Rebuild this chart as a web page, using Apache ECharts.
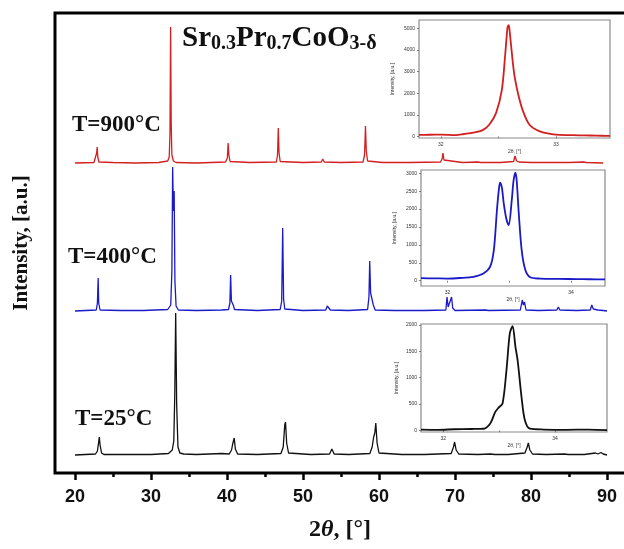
<!DOCTYPE html>
<html><head><meta charset="utf-8">
<script src="https://cdn.jsdelivr.net/npm/echarts@6/dist/echarts.min.js"></script>
<style>html,body{margin:0;padding:0;background:#fff}#c{width:624px;height:549px}</style>
</head><body><div id="c"></div>
<script>
// ---- main XRD patterns: [2theta, intensity above own baseline] ----
const pattern900 = [[20,0],[22.5,0.5],[22.75,2],[22.85,10],[22.92,16],[23.0,6],[23.15,1],[25,0.5],[28,0],[31,0.5],[32.2,2],[32.4,6],[32.5,30],[32.58,136],[32.66,40],[32.75,8],[32.95,2],[33.3,0.5],[36,0],[39.8,1],[40.05,5],[40.15,20],[40.25,8],[40.4,1.5],[43,0.5],[46.5,1],[46.65,8],[46.75,35],[46.85,10],[47.0,1.5],[50,0.5],[52.4,1],[52.6,4],[52.8,1],[55,0.5],[57.9,1],[58.1,8],[58.22,37],[58.33,12],[58.5,2],[60.5,0.5],[64,0.5],[68.1,1],[68.3,4],[68.42,10],[68.55,3],[68.8,1],[71,0.5],[73,1],[73.2,2],[73.4,0.5],[76,0.5],[77.7,1.5],[77.9,7],[78.1,2],[78.4,1],[80,0.5],[82.4,0.5],[82.6,1.5],[82.8,0.5],[85,0.5],[86.9,1],[87.1,3],[87.3,0.5],[89.5,0]];
const pattern400 = [[20,0],[22.8,1],[22.95,8],[23.05,33],[23.12,8],[23.3,1],[26,0.5],[29,0.5],[32.2,1.5],[32.6,6],[32.75,40],[32.85,144],[32.95,100],[33.05,120],[33.15,30],[33.3,5],[33.6,1],[36,0.5],[39.3,1],[40.2,1.5],[40.38,8],[40.48,36],[40.58,10],[40.72,12],[40.82,6],[41.0,1.5],[44,0.5],[47.0,1.5],[47.2,10],[47.33,83],[47.45,12],[47.6,2],[50,0.5],[53.0,1],[53.2,5],[53.3,6],[53.45,5],[53.6,1],[56,0.5],[58.5,1.5],[58.68,14],[58.78,50],[58.9,18],[59.1,17],[59.25,6],[59.5,1],[62,0.5],[66,0.5],[68.8,1],[68.95,14],[69.1,4],[69.3,3],[69.55,14],[69.7,3],[70,0.5],[74.0,1],[74.2,3],[74.4,0.5],[78.6,1],[78.85,11],[79.0,6],[79.15,9],[79.35,1],[81,0.5],[83.4,1],[83.6,4],[83.8,1],[86,0.5],[87.8,1],[88.0,6],[88.2,2],[88.8,1],[89.0,2],[89.5,0.5],[90,0]];
const pattern25 = [[20,0],[22.7,1],[22.95,4],[23.1,12],[23.2,18],[23.3,10],[23.5,2],[23.8,0.5],[27,0.5],[30,0.5],[32.3,1.5],[32.8,5],[33.0,14],[33.13,60],[33.25,142],[33.38,50],[33.55,8],[33.8,2],[34.3,1],[36,0.5],[39.3,1.5],[39.5,0.5],[40.3,1],[40.6,5],[40.75,11],[40.85,9],[40.95,17],[41.1,6],[41.4,1],[44,0.5],[47.1,1.5],[47.4,8],[47.6,30],[47.7,33],[47.85,12],[48.1,2],[51,0.5],[53.5,1],[53.8,6],[54.1,1],[56,0.5],[58.8,1.5],[59.1,8],[59.3,18],[59.45,22],[59.58,32],[59.75,12],[60.0,2],[63,0.5],[66,0.5],[69.5,1.5],[69.8,8],[69.95,13],[70.15,5],[70.5,1],[73,0.5],[74.7,1],[74.9,2.5],[75.2,0.5],[77,0.5],[79.2,2],[79.5,8],[79.65,12],[79.85,5],[80.2,1],[82,0.5],[84.4,1],[84.65,2.5],[84.9,0.5],[87,0.5],[88.5,2],[88.8,1],[89.2,2.5],[89.5,1],[90,0]];
const offset900 = 310, offset400 = 162, offset25 = 18;
const mainTicks = [20,30,40,50,60,70,80,90];
const mainMinorTicks = [25,35,45,55,65,75,85];

// ---- inset patterns: [2theta, counts] ----
const inset900 = [[31.81,70],[31.9,75],[32.0,80],[32.13,60],[32.2,110],[32.28,170],[32.36,280],[32.42,540],[32.48,1090],[32.53,2150],[32.56,3840],[32.58,5070],[32.59,5150],[32.6,4760],[32.62,3690],[32.64,2800],[32.67,2000],[32.71,1230],[32.77,540],[32.86,230],[32.95,120],[33.0,80],[33.1,60],[33.2,50],[33.3,40],[33.4,30],[33.47,20]];
const inset400 = [[31.57,70],[31.8,65],[32.0,60],[32.2,75],[32.42,110],[32.58,200],[32.69,390],[32.75,860],[32.8,1975],[32.83,2530],[32.85,2740],[32.88,2600],[32.91,2160],[32.95,1745],[32.99,1555],[33.04,2250],[33.07,2810],[33.1,3020],[33.12,2800],[33.15,1975],[33.2,860],[33.26,300],[33.34,95],[33.5,60],[33.8,50],[34.1,45],[34.3,40],[34.55,35]];
const inset25 = [[31.6,15],[31.9,10],[32.2,20],[32.5,25],[32.72,30],[32.84,130],[32.93,350],[32.99,430],[33.06,510],[33.13,1140],[33.19,1840],[33.24,1980],[33.29,1590],[33.33,1330],[33.4,630],[33.46,190],[33.55,30],[33.8,15],[34.2,10],[34.6,15],[34.93,5]];
const inset900XLabels = [32,33], inset900XTicks = [32,32.5,33];
const inset900YLabels = [0,1000,2000,3000,4000,5000];
const inset400XLabels = [32,34], inset400XTicks = [32,33,34];
const inset400YLabels = [0,500,1000,1500,2000,2500,3000];
const inset25XLabels = [32,34], inset25XTicks = [32,33,34];
const inset25YLabels = [0,500,1000,1500,2000];

const RED = '#d21f1f', BLUE = '#1a1ac8', BLACK = '#111111';
const serif = '"Liberation Serif","Times New Roman",serif';
const sans = '"Liberation Sans",Arial,sans-serif';
const plain = v => String(v);

function shift(arr, off){ return arr.map(p => [p[0], p[1] + off]); }

function insetX(grid, min, max, labels, ticks){
  return {gridIndex: grid, type:'value', position:'bottom', min:min, max:max,
    name:'2θ, [°]', nameLocation:'middle', nameGap:11,
    nameTextStyle:{fontSize:5, color:'#333', fontFamily:sans},
    axisLine:{show:false},
    axisTick:{show:true, customValues:ticks, length:2, lineStyle:{color:'#666', width:0.8}},
    axisLabel:{customValues:labels, fontSize:5, color:'#333', margin:4, fontFamily:sans, formatter:plain},
    splitLine:{show:false}};
}
function insetY(grid, min, max, labels, gap){
  return {gridIndex: grid, type:'value', position:'left', min:min, max:max,
    name:'Intensity, [a.u.]', nameLocation:'middle', nameGap:gap, nameRotate:90,
    nameTextStyle:{fontSize:5, color:'#333', fontFamily:sans},
    axisLine:{show:false},
    axisTick:{show:true, customValues:labels, length:2, lineStyle:{color:'#666', width:0.8}},
    axisLabel:{customValues:labels, fontSize:5, color:'#333', margin:4, fontFamily:sans, formatter:plain},
    splitLine:{show:false}};
}

const chart = echarts.init(document.getElementById('c'), null, {renderer:'canvas'});
chart.setOption({
  animation:false,
  backgroundColor:'#fff',
  title:[
    {text:'{b|Sr}{s|0.3}{b|Pr}{s|0.7}{b|CoO}{s|3-δ}', left:182, top:24, padding:0,
     textStyle:{rich:{
       b:{fontFamily:serif, fontWeight:'bold', fontSize:29, lineHeight:30, color:'#111', verticalAlign:'top'},
       s:{fontFamily:serif, fontWeight:'bold', fontSize:20, lineHeight:20, color:'#111', verticalAlign:'bottom', padding:[17,0,0,0]}
     }}},
    {text:'T=900°C', left:72, top:114, padding:0, textStyle:{fontFamily:serif, fontWeight:'bold', fontSize:23, color:'#111'}},
    {text:'T=400°C', left:68, top:246, padding:0, textStyle:{fontFamily:serif, fontWeight:'bold', fontSize:23, color:'#111'}},
    {text:'T=25°C', left:75, top:408, padding:0, textStyle:{fontFamily:serif, fontWeight:'bold', fontSize:23, color:'#111'}},
    {text:'{a|2}{i|θ}{a|, [°]}', left:309, top:518, padding:0,
     textStyle:{rich:{
       a:{fontFamily:serif, fontSize:24, color:'#111'},
       i:{fontFamily:serif, fontSize:24, fontStyle:'italic', color:'#111'}
     }}}
  ],
  grid:[
    {left:55, top:13, right:-20, bottom:76, outerBoundsMode:'none', show:true, borderColor:'#000', borderWidth:3, backgroundColor:'transparent'},
    {left:419, top:20, width:191, height:118, outerBoundsMode:'none', show:true, borderColor:'#8a8a8a', borderWidth:1.2, backgroundColor:'#fff'},
    {left:421, top:170, width:184, height:116, outerBoundsMode:'none', show:true, borderColor:'#8a8a8a', borderWidth:1.2, backgroundColor:'#fff'},
    {left:421, top:324, width:186, height:108, outerBoundsMode:'none', show:true, borderColor:'#8a8a8a', borderWidth:1.2, backgroundColor:'#fff'}
  ],
  xAxis:[
    {gridIndex:0, type:'value', position:'bottom', min:17.37, max:94.87,
     axisLine:{show:false},
     axisTick:{show:true, customValues:mainTicks, length:7, lineStyle:{color:'#000', width:2.5}},
     axisLabel:{customValues:mainTicks, fontSize:18, fontWeight:'bold', fontFamily:sans, color:'#111', margin:15},
     splitLine:{show:false}},
    {gridIndex:0, type:'value', position:'bottom', min:17.37, max:94.87,
     axisLine:{show:false},
     axisTick:{show:true, customValues:mainMinorTicks, length:4, lineStyle:{color:'#000', width:2.5}},
     axisLabel:{show:false}, splitLine:{show:false}},
    insetX(1, 31.81, 33.47, inset900XLabels, inset900XTicks),
    insetX(2, 31.57, 34.55, inset400XLabels, inset400XTicks),
    insetX(3, 31.6, 34.93, inset25XLabels, inset25XTicks)
  ],
  yAxis:[
    {gridIndex:0, type:'value', min:0, max:460,
     name:'Intensity, [a.u.]', nameLocation:'middle', nameGap:23, nameRotate:90,
     nameTextStyle:{fontFamily:serif, fontWeight:'bold', fontSize:21, color:'#111'},
     axisLine:{show:false}, axisTick:{show:false}, axisLabel:{show:false}, splitLine:{show:false}},
    insetY(1, -75, 5390, inset900YLabels, 24),
    insetY(2, -148, 3092, inset400YLabels, 24),
    insetY(3, -32, 2019, inset25YLabels, 22)
  ],
  series:[
    {type:'line', xAxisIndex:0, yAxisIndex:0, data:shift(pattern900, offset900), showSymbol:false, lineStyle:{color:RED, width:1.3}},
    {type:'line', xAxisIndex:0, yAxisIndex:0, data:shift(pattern400, offset400), showSymbol:false, lineStyle:{color:BLUE, width:1.3}},
    {type:'line', xAxisIndex:0, yAxisIndex:0, data:shift(pattern25, offset25), showSymbol:false, lineStyle:{color:BLACK, width:1.3}},
    {type:'line', xAxisIndex:2, yAxisIndex:1, data:inset900, showSymbol:false, smooth:0.3, lineStyle:{color:RED, width:1.8}},
    {type:'line', xAxisIndex:3, yAxisIndex:2, data:inset400, showSymbol:false, smooth:0.3, lineStyle:{color:BLUE, width:1.8}},
    {type:'line', xAxisIndex:4, yAxisIndex:3, data:inset25, showSymbol:false, smooth:0.3, lineStyle:{color:BLACK, width:1.8}}
  ]
});
</script></body></html>
